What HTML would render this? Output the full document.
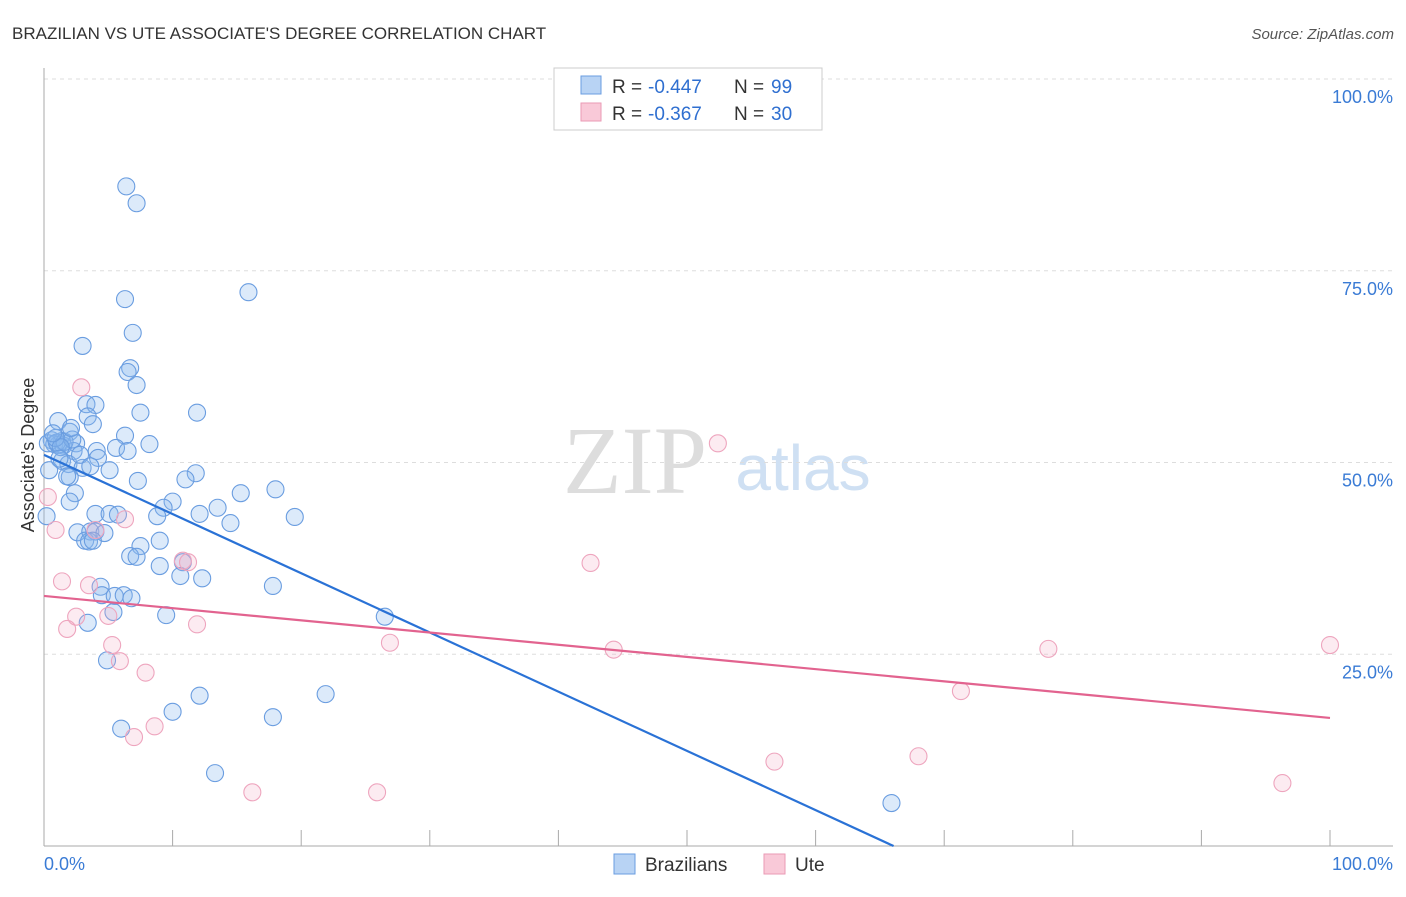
<!DOCTYPE html>
<html><head><meta charset="utf-8"><style>
body{margin:0;background:#fff;font-family:"Liberation Sans",sans-serif}
svg text{font-family:"Liberation Sans",sans-serif}
</style></head><body>
<svg width="1406" height="892" xmlns="http://www.w3.org/2000/svg">
<text x="12" y="39" font-size="17" fill="#333">BRAZILIAN VS UTE ASSOCIATE'S DEGREE CORRELATION CHART</text>
<text x="1394" y="39" font-size="15" fill="#555" text-anchor="end" font-style="italic">Source: ZipAtlas.com</text>
<text x="635" y="493" font-size="96" fill="#ddd" text-anchor="middle" style="font-family:'Liberation Serif',serif">ZIP</text>
<text x="803" y="490" font-size="64" fill="#cfe0f3" text-anchor="middle">atlas</text>
<g id="grid"></g>
<g id="axes"></g>
<g id="pts"></g>
<g id="trends"></g>
<text x="34" y="455" font-size="18" fill="#333" text-anchor="middle" transform="rotate(-90 34 455)">Associate's Degree</text>
<g>
<rect x="554" y="68" width="268" height="62" fill="#fff" stroke="#ccc"/>
<rect x="581" y="76" width="20" height="18" fill="#b8d3f4" stroke="#6a9de0"/>
<rect x="581" y="103" width="20" height="18" fill="#f9c9d8" stroke="#ea9ab5"/>
<text x="612" y="93" font-size="19" fill="#333">R =</text>
<text x="648" y="93" font-size="19" fill="#2f6fd0">-0.447</text>
<text x="734" y="93" font-size="19" fill="#333">N =</text>
<text x="771" y="93" font-size="19" fill="#2f6fd0">99</text>
<text x="612" y="120" font-size="19" fill="#333">R =</text>
<text x="648" y="120" font-size="19" fill="#2f6fd0">-0.367</text>
<text x="734" y="120" font-size="19" fill="#333">N =</text>
<text x="771" y="120" font-size="19" fill="#2f6fd0">30</text>
</g>
<g>
<rect x="614" y="854" width="21" height="20" fill="#b8d3f4" stroke="#6a9de0"/>
<text x="645" y="871" font-size="19" fill="#333">Brazilians</text>
<rect x="764" y="854" width="21" height="20" fill="#f9c9d8" stroke="#ea9ab5"/>
<text x="795" y="871" font-size="19" fill="#333">Ute</text>
</g>
</svg>
<script>
const yTicks=[25,50,75,100];
const yTickLabels=["25.0%","50.0%","75.0%","100.0%"];
const xTickLabels=["0.0%","100.0%"];
const blueX=[6.4,7.2,6.3,15.9,6.9,3.0,6.7,6.5,7.2,3.3,4.0,7.5,11.9,3.4,1.1,3.8,2.0,6.3,0.6,1.4,2.5,8.2,0.8,1.1,1.5,5.6,6.5,4.1,2.3,4.2,1.4,1.9,3.0,5.1,11.8,11.0,7.3,2.0,1.8,2.4,15.3,18.0,2.0,10.0,9.3,13.5,4.0,5.1,5.75,8.8,12.1,19.5,14.5,2.6,3.6,4.0,4.7,3.2,3.5,3.8,9.0,7.5,6.7,7.2,9.0,10.8,10.6,12.3,17.8,4.4,4.5,5.5,6.2,6.8,5.4,9.5,26.5,3.4,4.9,6.0,10.0,12.1,21.9,17.8,13.3,65.9,0.3,0.4,0.2,1.0,1.6,2.2,0.9,1.3,2.8,1.2,3.6,2.1,0.7];
const blueY=[86.0,83.8,71.3,72.2,66.9,65.2,62.3,61.8,60.1,57.6,57.5,56.5,56.5,56.0,55.4,55.0,54.0,53.5,52.9,52.8,52.5,52.4,52.4,52.3,52.2,51.9,51.5,51.5,51.5,50.6,50.2,49.8,49.3,49.0,48.6,47.8,47.6,48.1,48.2,46.0,46.0,46.5,44.9,44.9,44.1,44.1,43.3,43.3,43.2,43.0,43.3,42.9,42.1,40.9,41.0,41.0,40.8,39.8,39.7,39.8,39.8,39.1,37.8,37.7,36.5,37.0,35.2,34.9,33.9,33.8,32.7,32.6,32.7,32.3,30.5,30.1,29.9,29.1,24.2,15.3,17.5,19.6,19.8,16.8,9.5,5.6,52.5,49.0,43.0,52.6,52.7,53.0,53.2,52.0,51.0,50.5,49.5,54.5,53.8];
const pinkX=[2.9,52.4,0.3,0.9,4.0,6.3,10.8,11.2,42.5,1.4,3.5,2.5,1.8,5.0,11.9,5.3,26.9,44.3,78.1,100,5.9,7.9,71.3,8.6,7.0,56.8,68.0,16.2,25.9,96.3];
const pinkY=[59.8,52.5,45.5,41.2,41.2,42.6,37.2,37.0,36.9,34.5,34.0,29.9,28.3,30.0,28.9,26.2,26.5,25.6,25.7,26.2,24.1,22.6,20.2,15.6,14.2,11.0,11.7,7.0,7.0,8.2];
const blueTrend=[51.0,-0.772];
const pinkTrend=[32.6,-0.159];
const X=v=>44+v*12.86, Y=v=>846-v*7.67;
const NS="http://www.w3.org/2000/svg";
function mk(t,a,p){const e=document.createElementNS(NS,t);for(const k in a)e.setAttribute(k,a[k]);p.appendChild(e);return e;}
const grid=document.getElementById('grid'),axes=document.getElementById('axes'),pts=document.getElementById('pts'),tr=document.getElementById('trends');
yTicks.forEach((t,i)=>{
 const l=mk('line',{x1:44,x2:1393,y1:Y(t),y2:Y(t),stroke:'#ddd','stroke-dasharray':'4,4'},grid);
 
 
 const tx=mk('text',{x:1393,y:Y(t)+24,'font-size':18,fill:'#3a7bd5','text-anchor':'end'},axes);
 tx.textContent=yTickLabels[i];
 
 
});
const ax=mk('line',{x1:44,x2:44,y1:68,y2:846,stroke:'#aaa'},axes);


const xa=mk('line',{x1:44,x2:1393,y1:846,y2:846,stroke:'#aaa'},axes);


for(let i=0;i<=10;i++){const t=mk('line',{x1:X(i*10),x2:X(i*10),y1:830,y2:846,stroke:'#aaa'},axes);
 
 }
[[0,'start',44],[100,'end',1393]].forEach((d,i)=>{const t=mk('text',{x:d[2],y:870,'font-size':18,fill:'#3a7bd5','text-anchor':d[1]},axes);t.textContent=xTickLabels[i];
 
 });
blueX.forEach((x,i)=>{const c=mk('circle',{cx:X(x),cy:Y(blueY[i]),r:8.5,fill:'rgba(140,185,240,0.3)',stroke:'#6a9de0','stroke-width':1.1},pts);
 
 });
pinkX.forEach((x,i)=>{const c=mk('circle',{cx:X(x),cy:Y(pinkY[i]),r:8.5,fill:'rgba(245,175,200,0.25)',stroke:'#eea5be','stroke-width':1.1},pts);
 
 });
const bx2=-blueTrend[0]/blueTrend[1];
const bl=mk('line',{x1:X(0),y1:Y(blueTrend[0]),x2:X(bx2),y2:Y(0),stroke:'#2a72d6','stroke-width':2.2},tr);


const pl=mk('line',{x1:X(0),y1:Y(pinkTrend[0]),x2:X(100),y2:Y(pinkTrend[0]+100*pinkTrend[1]),stroke:'#e2638f','stroke-width':2.2},tr);


</script>
</body></html>
